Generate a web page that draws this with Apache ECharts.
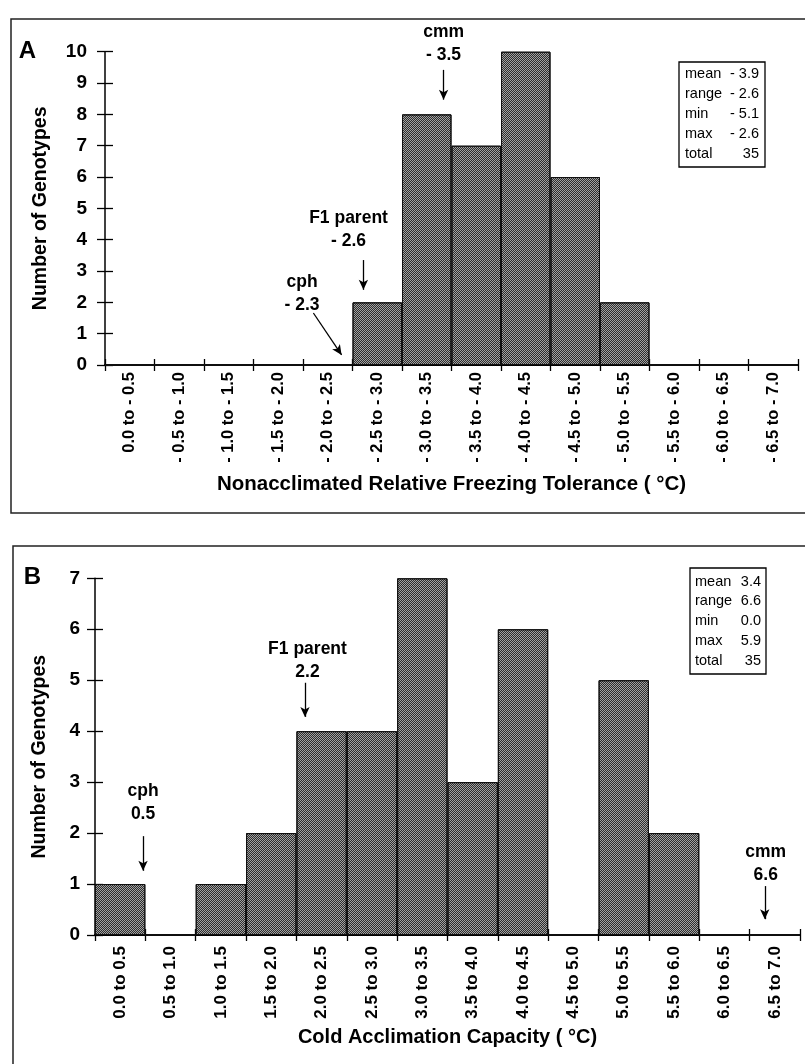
<!DOCTYPE html>
<html><head><meta charset="utf-8">
<script src="https://cdn.jsdelivr.net/npm/echarts@6/dist/echarts.min.js"></script>
<style>html,body{margin:0;padding:0;background:#fff}#c{width:805px;height:1064px}</style>
</head><body><div id="c"></div>
<script>
// ---- data ----
const catsA = ['0.0 to - 0.5','- 0.5 to - 1.0','- 1.0 to - 1.5','- 1.5 to - 2.0','- 2.0 to - 2.5','- 2.5 to - 3.0','- 3.0 to - 3.5','- 3.5 to - 4.0','- 4.0 to - 4.5','- 4.5 to - 5.0','- 5.0 to - 5.5','- 5.5 to - 6.0','- 6.0 to - 6.5','- 6.5 to - 7.0'];
const valsA = [0,0,0,0,0,2,8,7,10,6,2,0,0,0];
const catsB = ['0.0 to 0.5','0.5 to 1.0','1.0 to 1.5','1.5 to 2.0','2.0 to 2.5','2.5 to 3.0','3.0 to 3.5','3.5 to 4.0','4.0 to 4.5','4.5 to 5.0','5.0 to 5.5','5.5 to 6.0','6.0 to 6.5','6.5 to 7.0'];
const valsB = [1,0,1,2,4,4,7,3,6,0,5,2,0,0];
const yMaxA = 10, yMaxB = 7;
const statLabels = ['mean','range','min','max','total'];
const statsA = ['- 3.9','- 2.6','- 5.1','- 2.6','35'];
const statsB = ['3.4','6.6','0.0','5.9','35'];
// annotation labels: position in data units (|°C| along axis, count)
const notesA = [
  {name:'cmm\n- 3.5', value:[3.42,10.27]},
  {name:'F1 parent\n- 2.6', value:[2.46,4.33]},
  {name:'cph\n- 2.3', value:[1.99,2.28]}
];
const arrowsA = [[[3.42,9.42],[3.42,8.47]], [[2.61,3.35],[2.61,2.40]], [[2.105,1.66],[2.39,0.32]]];
const notesB = [
  {name:'cph\n0.5', value:[0.477,2.59]},
  {name:'F1 parent\n2.2', value:[2.11,5.39]},
  {name:'cmm\n6.6', value:[6.66,1.39]}
];
const arrowsB = [[[0.477,1.94],[0.477,1.26]], [[2.085,4.95],[2.085,4.28]], [[6.65,0.96],[6.65,0.31]]];

// ---- styling ----
const FF = '"Liberation Sans", Arial, Helvetica, sans-serif';
const INK = '#000';
const barStyle = {
  color: '#a2a2a2',
  borderColor: '#111',
  borderWidth: 1,
  decal: {
    symbol: 'rect', symbolSize: 1, color: 'rgba(0,0,0,0.72)',
    dashArrayX: [[1,1],[0,1,1,0]], dashArrayY: [1,0], rotation: 0
  }
};

function catAxes(grid, cats, fs, margin) {
  return [
    {type:'category', gridIndex:grid, data:cats, boundaryGap:true,
     axisLine:{show:true, lineStyle:{color:INK, width:2}},
     axisTick:{show:true, inside:false, length:6, interval:0, alignWithLabel:false, lineStyle:{color:INK, width:1.3}},
     axisLabel:{show:true, interval:0, rotate:90, margin:margin, color:INK, fontFamily:FF, fontWeight:'bold', fontSize:fs},
     splitLine:{show:false}},
    {type:'category', gridIndex:grid, data:cats, boundaryGap:true, position:'bottom',
     axisLine:{show:false},
     axisTick:{show:true, inside:true, length:6, interval:0, lineStyle:{color:INK, width:1.3}},
     axisLabel:{show:false}, splitLine:{show:false}}
  ];
}
function valX(grid) {
  return {type:'value', gridIndex:grid, min:0, max:7, show:false, position:'top'};
}
function yAxes(grid, max, name, gap, margin) {
  return [
    {type:'value', gridIndex:grid, min:0, max:max, interval:1,
     name:name, nameLocation:'middle', nameGap:gap, nameRotate:90,
     nameTextStyle:{color:INK, fontFamily:FF, fontWeight:'bold', fontSize:19.5},
     axisLine:{show:true, lineStyle:{color:INK, width:1.5}},
     axisTick:{show:true, inside:false, length:8, lineStyle:{color:INK, width:1.3}},
     axisLabel:{show:true, margin:margin, color:INK, fontFamily:FF, fontWeight:'bold', fontSize:19},
     splitLine:{show:false}},
    {type:'value', gridIndex:grid, min:0, max:max, interval:1, position:'left',
     axisLine:{show:false},
     axisTick:{show:true, inside:true, length:8, lineStyle:{color:INK, width:1.3}},
     axisLabel:{show:false}, splitLine:{show:false}}
  ];
}
function noteSeries(xi, yi, notes, arrows) {
  return {
    type:'scatter', xAxisIndex:xi, yAxisIndex:yi, data:notes, symbolSize:0, clip:false, silent:true,
    itemStyle:{opacity:1, color:INK},
    label:{show:true, position:'inside', formatter:p=>p.name, color:INK, opacity:1, fontFamily:FF,
           fontWeight:'bold', fontSize:17.5, lineHeight:23, align:'center', verticalAlign:'middle'},
    markLine:{silent:true, symbol:['none','arrow'], symbolSize:[7,10], precision:3,
      lineStyle:{color:INK, width:1.3, type:'solid', opacity:1}, itemStyle:{color:INK}, label:{show:false}, emphasis:{disabled:true},
      data: arrows.map(a => [{coord:a[0]}, {coord:a[1]}])}
  };
}

const [xa0, xa1] = catAxes(0, catsA, 16.5, 7);
const [xb0, xb1] = catAxes(1, catsB, 17, 11);
xa0.name = 'Nonacclimated Relative Freezing Tolerance ( \u00B0C)';
xb0.name = 'Cold Acclimation Capacity ( \u00B0C)';
for (const [ax, gap, fs] of [[xa0, 109, 20.5], [xb0, 92, 20]]) {
  ax.nameLocation = 'middle'; ax.nameGap = gap;
  ax.nameTextStyle = {color:INK, fontFamily:FF, fontWeight:'bold', fontSize:fs};
}
const [ya0, ya1] = yAxes(0, yMaxA, 'Number of Genotypes', 54, 18);
const [yb0, yb1] = yAxes(1, yMaxB, 'Number of Genotypes', 45, 15);

function statBox(x, y, w, h, labX, valX, ys, vals) {
  const els = [{type:'rect', shape:{x:x, y:y, width:w, height:h},
                style:{fill:'#fff', stroke:INK, lineWidth:1.3}}];
  ys.forEach((yy, i) => {
    els.push({type:'text', x:labX, y:yy, style:{text:statLabels[i], fill:INK, font:'14.5px '+FF, textAlign:'left', textVerticalAlign:'middle'}});
    els.push({type:'text', x:valX, y:yy, style:{text:vals[i], fill:INK, font:'14.5px '+FF, textAlign:'right', textVerticalAlign:'middle'}});
  });
  return els;
}

const graphics = [
  {type:'rect', shape:{x:11, y:19, width:830, height:494}, style:{fill:'none', stroke:'#222', lineWidth:1.5}, z:-10},
  {type:'rect', shape:{x:13, y:546, width:830, height:600}, style:{fill:'none', stroke:'#222', lineWidth:1.5}, z:-10},
  {type:'text', x:27.5, y:51, style:{text:'A', fill:INK, font:'bold 24px '+FF, textAlign:'center', textVerticalAlign:'middle'}},
  {type:'text', x:32.5, y:577, style:{text:'B', fill:INK, font:'bold 24px '+FF, textAlign:'center', textVerticalAlign:'middle'}},
  ...statBox(679, 62, 86, 105, 685, 759, [74,94,114,134,154], statsA),
  ...statBox(690, 568, 76, 106, 695, 761, [582,601,621,641,661], statsB)
];

const chart = echarts.init(document.getElementById('c'), null, {renderer:'canvas'});
chart.setOption({
  animation:false,
  backgroundColor:'#fff',
  grid:[
    {left:105, top:51.7, width:693, height:313.3, containLabel:false},
    {left:95, top:578.3, width:705, height:356.7, containLabel:false}
  ],
  xAxis:[xa0, xa1, valX(0), xb0, xb1, valX(1)],
  yAxis:[ya0, ya1, yb0, yb1],
  series:[
    {type:'bar', xAxisIndex:0, yAxisIndex:0, data:valsA, barCategoryGap:'0%', itemStyle:barStyle, silent:true},
    noteSeries(2, 0, notesA, arrowsA),
    {type:'bar', xAxisIndex:3, yAxisIndex:2, data:valsB, barCategoryGap:'0%', itemStyle:barStyle, silent:true},
    noteSeries(5, 2, notesB, arrowsB)
  ],
  graphic: graphics
});
</script>
</body></html>
